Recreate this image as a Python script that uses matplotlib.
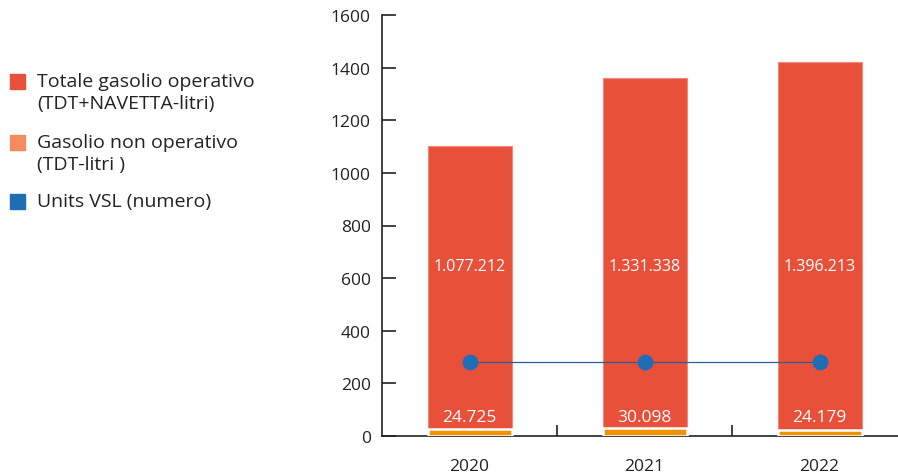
import matplotlib
matplotlib.use('Agg')
from matplotlib import pyplot as plt
from matplotlib.patches import Rectangle
import numpy as np

years = ['2020', '2021', '2022']
gasolio_operativo = [1077.212, 1331.338, 1396.213]   # migliaia di litri
gasolio_non_operativo = [24.725, 30.098, 24.179]
units_vsl = [281, 281, 281]
lbl_operativo = ['1.077.212', '1.331.338', '1.396.213']
lbl_non_operativo = ['24.725', '30.098', '24.179']

RED = '#E8503A'
ORANGE_BAR = '#F39200'
ORANGE_LEG = '#F28B5E'
BLUE = '#1F6EB4'
TXT = '#222222'

plt.rcParams['font.family'] = ['Open Sans', 'DejaVu Sans']

W, H = 898, 477
fig = plt.figure(figsize=(W / 100, H / 100), dpi=100)

# axes: x from 382px to 907px, y=0 at 437px, 1600 at 16px
ax = fig.add_axes([382 / W, (H - 437) / H, 525 / W, (437 - 16) / H])
x = np.arange(len(years))
width = 0.48

ax.bar(x, gasolio_operativo, width, bottom=gasolio_non_operativo, color=RED,
       edgecolor='#F08A78', linewidth=0.8, zorder=2)
ax.bar(x, gasolio_non_operativo, width, color=ORANGE_BAR, edgecolor='white', linewidth=1.8, zorder=3)
ax.plot(x, units_vsl, color='#2C5E96', linewidth=0.9, zorder=3)
ax.scatter(x, units_vsl, s=130, color=BLUE, zorder=4, linewidths=0)

for i in range(len(years)):
    ax.text(x[i], 645, lbl_operativo[i], ha='center', va='center', color='white', fontsize=11.5, zorder=5)
    ax.text(x[i], 72, lbl_non_operativo[i], ha='center', va='center', color='white', fontsize=12.5, zorder=5)

ax.set_xlim(-0.5, 2.5)
ax.set_ylim(0, 1600)
ax.set_yticks(range(0, 1601, 200))
ax.tick_params(axis='y', direction='in', length=10, width=1.2, colors=TXT, labelsize=12.5, pad=8)
ax.set_xticks(x)
ax.set_xticklabels(years)
ax.tick_params(axis='x', length=0, labelsize=12.5, colors=TXT, pad=16)
# category separators
ax.set_xticks([0.5, 1.5], minor=True)
ax.tick_params(axis='x', which='minor', direction='in', length=8, width=1.2, color=TXT)

for s in ['top', 'right']:
    ax.spines[s].set_visible(False)
ax.spines['left'].set_linewidth(1.2)
ax.spines['bottom'].set_linewidth(1.2)
ax.spines['left'].set_color(TXT)
ax.spines['bottom'].set_color(TXT)

# legend drawn by hand
legend_items = [
    (RED, 82, ['Totale gasolio operativo', '(TDT+NAVETTA-litri)']),
    (ORANGE_LEG, 143, ['Gasolio non operativo', '(TDT-litri )']),
    (BLUE, 202, ['Units VSL (numero)']),
]
for color, yc, lines in legend_items:
    fig.patches.append(Rectangle((10 / W, (H - yc - 8) / H), 15 / W, 15 / H,
                                 transform=fig.transFigure, color=color, figure=fig))
    for k, line in enumerate(lines):
        fig.text(37 / W, (H - yc - k * 22) / H, line, ha='left', va='center',
                 fontsize=14, color=TXT)

fig.savefig('out.png', dpi=100)
